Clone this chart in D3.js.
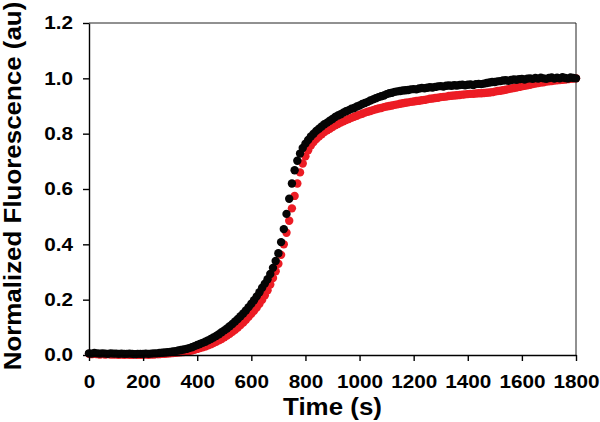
<!DOCTYPE html>
<html lang="en">
  <head>
    <meta charset="utf-8"/>
    <title>Normalized Fluorescence</title>
    <style>
      body { margin: 0; background: #fff; }
      text { font-family: "Liberation Sans", Arial, sans-serif; font-weight: bold; fill: #000; }
    </style>
  </head>
  <body>
    <svg id="chart"></svg>

    <script src="https://d3js.org/d3.v7.min.js"></script>
    <script type="text/javascript">
      const width = 600;
      const height = 422;
      const margin = {top: 23, right: 24, bottom: 67, left: 89};

      // sampling every 10 s, 0..1800
      const timeStep = 10;
      const xTicks = [0, 200, 400, 600, 800, 1000, 1200, 1400, 1600, 1800];
      const yTicks = [0, 0.2, 0.4, 0.6, 0.8, 1.0, 1.2];

      const blackSeries = [
        0.006,0.005,0.007,0.006,0.005,0.006,0.005,0.004,0.006,0.005,
        0.005,0.004,0.005,0.004,0.004,0.005,0.004,0.003,0.004,0.004,
        0.004,0.005,0.004,0.005,0.006,0.006,0.007,0.008,0.009,0.010,
        0.011,0.013,0.014,0.016,0.018,0.020,0.022,0.025,0.028,0.032,
        0.036,0.040,0.044,0.048,0.053,0.058,0.063,0.069,0.075,0.082,
        0.089,0.096,0.104,0.112,0.121,0.130,0.140,0.150,0.161,0.173,
        0.185,0.198,0.212,0.227,0.243,0.258,0.274,0.293,0.315,0.340,
        0.368,0.408,0.455,0.510,0.565,0.620,0.668,0.702,0.728,0.748,
        0.764,0.777,0.790,0.800,0.810,0.818,0.826,0.834,0.840,0.847,
        0.853,0.860,0.866,0.870,0.876,0.881,0.885,0.890,0.893,0.898,
        0.902,0.907,0.911,0.915,0.920,0.924,0.928,0.932,0.935,0.938,
        0.943,0.946,0.948,0.951,0.953,0.954,0.956,0.957,0.958,0.960,
        0.961,0.960,0.963,0.965,0.964,0.966,0.968,0.967,0.969,0.971,
        0.972,0.970,0.973,0.974,0.973,0.975,0.974,0.976,0.977,0.975,
        0.977,0.978,0.976,0.979,0.980,0.979,0.981,0.983,0.985,0.987,
        0.987,0.989,0.990,0.992,0.993,0.991,0.994,0.996,0.995,0.997,
        0.998,0.996,0.999,1.000,0.998,1.001,0.999,1.002,1.000,0.998,
        1.001,1.003,0.999,1.002,1.000,1.004,1.001,0.999,1.003,1.001,
        1.000
      ];

      const redSeries = [
        0.004,0.003,0.004,0.003,0.002,0.003,0.002,0.003,0.002,0.002,
        0.002,0.001,0.002,0.001,0.002,0.001,0.001,0.002,0.001,0.001,
        0.001,0.002,0.001,0.002,0.002,0.003,0.003,0.004,0.004,0.005,
        0.006,0.007,0.008,0.009,0.010,0.011,0.013,0.014,0.016,0.019,
        0.022,0.025,0.028,0.031,0.035,0.039,0.043,0.048,0.053,0.058,
        0.064,0.070,0.077,0.084,0.091,0.099,0.108,0.117,0.127,0.138,
        0.149,0.160,0.172,0.185,0.200,0.216,0.234,0.255,0.278,0.303,
        0.330,0.362,0.400,0.442,0.485,0.530,0.575,0.620,0.660,0.692,
        0.718,0.740,0.757,0.770,0.781,0.790,0.798,0.806,0.812,0.818,
        0.824,0.830,0.835,0.840,0.845,0.849,0.853,0.857,0.861,0.865,
        0.869,0.872,0.876,0.879,0.882,0.885,0.888,0.891,0.893,0.896,
        0.898,0.900,0.902,0.904,0.906,0.908,0.910,0.912,0.913,0.915,
        0.916,0.918,0.919,0.921,0.922,0.924,0.926,0.927,0.929,0.930,
        0.932,0.933,0.934,0.936,0.937,0.938,0.939,0.940,0.941,0.942,
        0.943,0.944,0.944,0.945,0.946,0.946,0.947,0.948,0.949,0.950,
        0.952,0.954,0.955,0.957,0.959,0.961,0.963,0.965,0.967,0.969,
        0.971,0.973,0.975,0.977,0.979,0.981,0.983,0.985,0.986,0.988,
        0.989,0.990,0.992,0.993,0.994,0.995,0.996,0.997,0.998,0.999,
        1.000
      ];

      const labelScale = 1.15;   // tick labels in the figure are a bit wide
      const titleScale = 1.08;

      const svg = d3.select("#chart")
        .attr("width", width)
        .attr("height", height);

      const x = d3.scaleLinear().domain([0, 1800]).range([margin.left, width - margin.right]);
      const y = d3.scaleLinear().domain([0, 1.2]).range([height - margin.bottom, margin.top]);

      // frame top and right
      svg.append("path")
        .attr("d", "M" + x(0) + "," + y(1.2) + "H" + x(1800) + "V" + y(0))
        .attr("fill", "none")
        .attr("stroke", "#222")
        .attr("stroke-width", 1);

      function drawSeries(values, color) {
        svg.append("g")
          .selectAll("circle")
          .data(values)
          .enter().append("circle")
            .attr("cx", function(d, i) { return x(i * timeStep); })
            .attr("cy", function(d) { return y(d); })
            .attr("r", 4.2)
            .attr("fill", color);
      }

      drawSeries(redSeries, "#ec1c24");
      drawSeries(blackSeries, "#050505");

      const xAxis = svg.append("g")
        .attr("transform", "translate(0," + y(0) + ")")
        .call(d3.axisBottom(x).tickValues(xTicks).tickFormat(d3.format("d"))
          .tickSize(6).tickSizeOuter(0).tickPadding(14));
      xAxis.selectAll("text")
        .style("font-size", "18px")
        .attr("transform", "scale(" + labelScale + ",1)");

      const yAxis = svg.append("g")
        .attr("transform", "translate(" + x(0) + ",0)")
        .call(d3.axisLeft(y).tickValues(yTicks).tickFormat(d3.format(".1f")).tickSize(6).tickSizeOuter(0));
      yAxis.selectAll("text")
        .style("font-size", "18px")
        .attr("x", -16 / labelScale)
        .attr("transform", "scale(" + labelScale + ",1)");

      svg.selectAll(".domain, .tick line")
        .attr("stroke", "#000")
        .attr("stroke-width", 1.4);

      svg.append("text")
        .attr("transform", "translate(" + ((x(0) + x(1800)) / 2) + ",415) scale(" + titleScale + ",1)")
        .attr("text-anchor", "middle")
        .style("font-size", "24px")
        .text("Time (s)");

      svg.append("text")
        .attr("transform", "translate(21,186) rotate(-90) scale(" + titleScale + ",1)")
        .attr("text-anchor", "middle")
        .style("font-size", "24px")
        .text("Normalized Fluorescence (au)");
    </script>
  </body>
</html>
